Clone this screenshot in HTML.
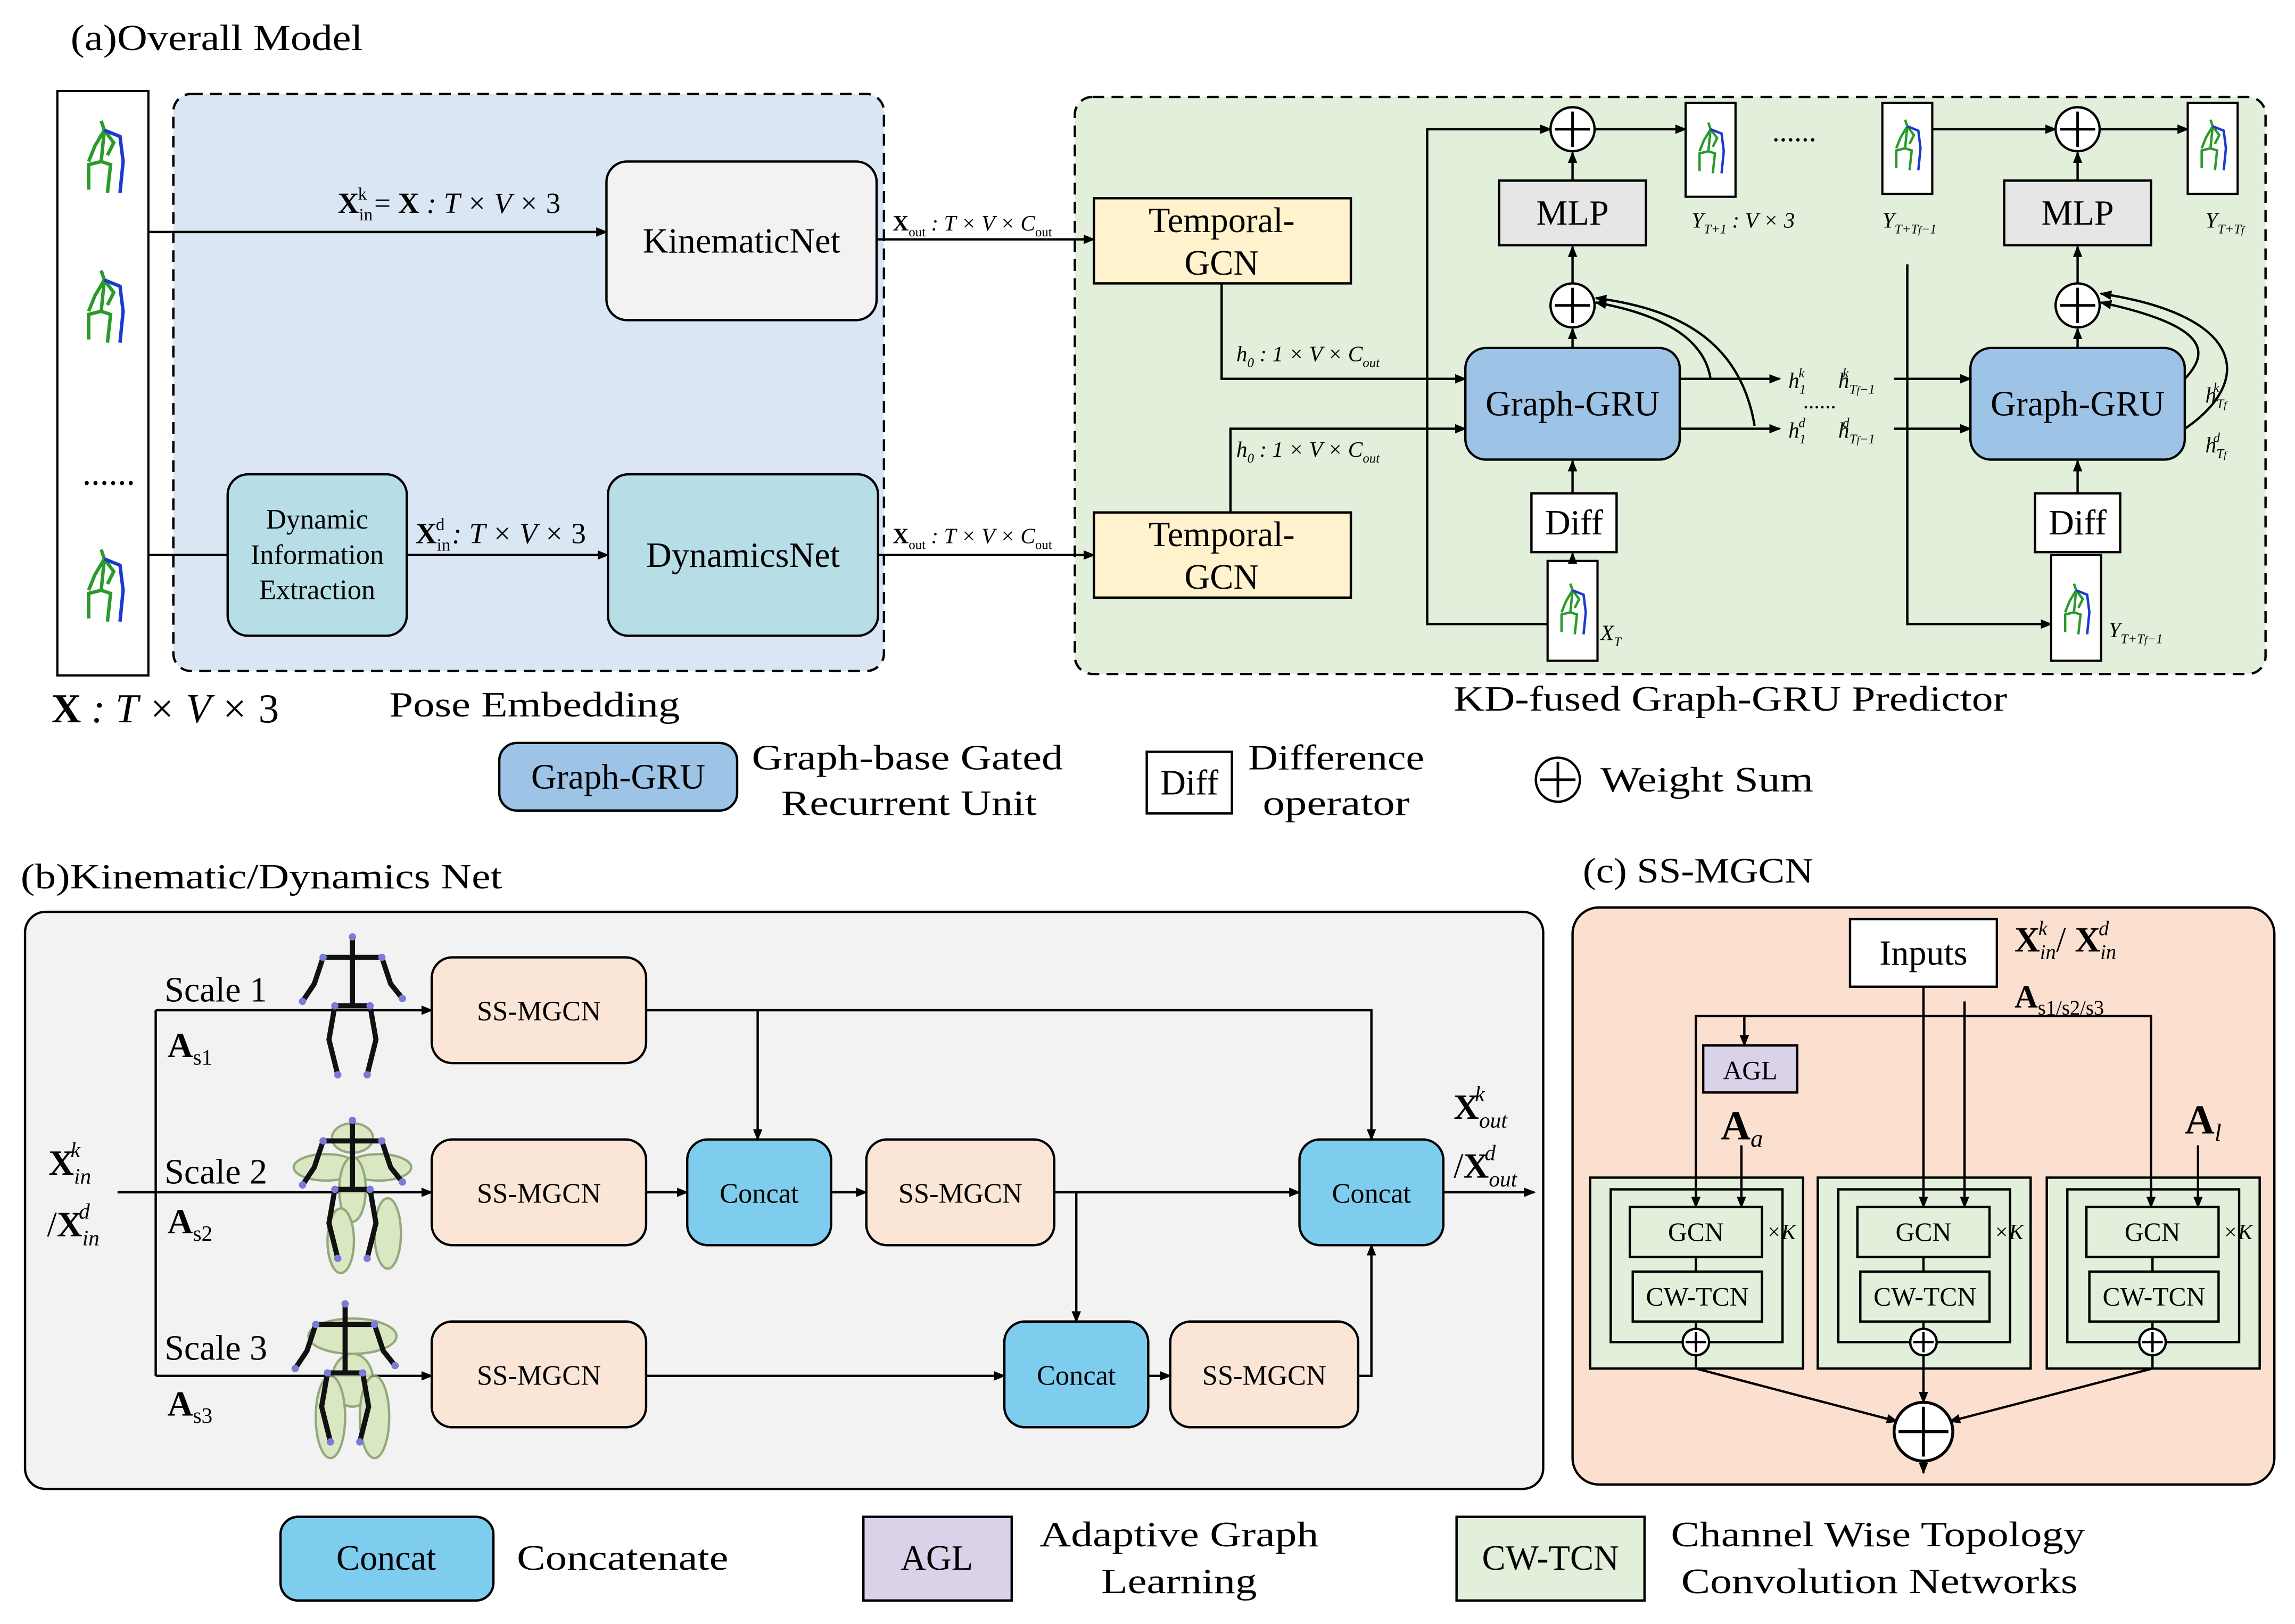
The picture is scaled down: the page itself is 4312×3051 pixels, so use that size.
<!DOCTYPE html>
<html><head><meta charset="utf-8"><style>
html,body{margin:0;padding:0;background:#fff}
svg{display:block}
text{font-family:"Liberation Serif",serif;fill:#000}
</style></head><body>
<svg width="4312" height="3051" viewBox="0 0 1563 1106" xmlns="http://www.w3.org/2000/svg">
<defs>
<marker id="a" markerWidth="8" markerHeight="8" refX="7" refY="4" orient="auto" markerUnits="userSpaceOnUse"><path d="M0,0.8 L8,4 L0,7.2z" fill="#000"/></marker>
<symbol id="sk" viewBox="0 0 40 60">
<path d="M18,4 L20,10 L14,20 L10,30 M20,10 L26,18 L22,26 M20,10 L18,30 L10,32 L10,48 M18,30 L24,32 L22,50" stroke="#2a9a2a" stroke-width="2.2" fill="none"/>
<path d="M20,10 L30,14 L32,30 L30,50" stroke="#1a3ad0" stroke-width="2.2" fill="none"/>
</symbol>
<symbol id="bk" viewBox="0 0 80 110">
<path d="M40,8 L40,20 M20,22 L60,22 M20,22 L14,40 L6,52 M60,22 L66,40 L74,50 M40,20 L40,55 M28,55 L52,55 M28,55 L24,78 L30,102 M52,55 L56,78 L50,102" stroke="#111" stroke-width="3.5" fill="none"/>
<g fill="#7a7ad8"><circle cx="40" cy="8" r="2.5"/><circle cx="20" cy="22" r="2.5"/><circle cx="60" cy="22" r="2.5"/><circle cx="6" cy="52" r="2.5"/><circle cx="74" cy="50" r="2.5"/><circle cx="28" cy="55" r="2.5"/><circle cx="52" cy="55" r="2.5"/><circle cx="30" cy="102" r="2.5"/><circle cx="50" cy="102" r="2.5"/></g>
</symbol>
</defs>
<g font-size="24" stroke-width="1.6">
<!-- (a) -->
<text x="48" y="34" font-size="25" textLength="199" lengthAdjust="spacingAndGlyphs">(a)Overall Model</text>
<rect x="39" y="62" width="62" height="398" fill="#fff" stroke="#000" stroke-width="1.5"/>
<use href="#sk" x="48" y="78" width="46" height="64"/><use href="#sk" x="48" y="180" width="46" height="64"/><use href="#sk" x="48" y="370" width="46" height="64"/>
<text x="56" y="330">......</text>
<rect x="118" y="64" width="484" height="393" rx="12" fill="#dae6f3" stroke="#000" stroke-dasharray="8,5"/>
<rect x="413" y="110" width="184" height="108" rx="14" fill="#f2f2f2" stroke="#000"/>
<text x="505" y="172" text-anchor="middle">KinematicNet</text>
<rect x="414" y="323" width="184" height="110" rx="14" fill="#b7dde6" stroke="#000"/>
<text x="506" y="386" text-anchor="middle">DynamicsNet</text>
<rect x="155" y="323" width="122" height="110" rx="14" fill="#b7dde6" stroke="#000"/>
<text x="216" y="360" text-anchor="middle" font-size="19">Dynamic</text><text x="216" y="384" text-anchor="middle" font-size="19">Information</text><text x="216" y="408" text-anchor="middle" font-size="19">Extraction</text>
<line x1="101" y1="158" x2="413" y2="158" stroke="#000" marker-end="url(#a)"/>
<text x="230" y="145" font-size="20"><tspan font-weight="bold">X</tspan><tspan font-size="12" dy="5">in</tspan><tspan font-size="12" dy="-14" dx="-10">k</tspan><tspan dy="9"> = </tspan><tspan font-weight="bold">X</tspan><tspan font-style="italic"> : T × V × </tspan>3</text>
<line x1="101" y1="378" x2="155" y2="378" stroke="#000"/>
<line x1="277" y1="378" x2="414" y2="378" stroke="#000" marker-end="url(#a)"/>
<text x="283" y="370" font-size="20"><tspan font-weight="bold">X</tspan><tspan font-size="12" dy="5">in</tspan><tspan font-size="12" dy="-14" dx="-10">d</tspan><tspan dy="9" font-style="italic"> : T × V × </tspan>3</text>
<text x="265" y="488" textLength="198" lengthAdjust="spacingAndGlyphs">Pose Embedding</text>
<text x="35" y="492" font-size="28"><tspan font-weight="bold">X</tspan><tspan font-style="italic"> : T × V × </tspan>3</text>

<rect x="732" y="66" width="811" height="393" rx="12" fill="#e2efda" stroke="#000" stroke-dasharray="8,5"/>
<line x1="597" y1="163" x2="745" y2="163" stroke="#000" marker-end="url(#a)"/>
<text x="608" y="157" font-size="15"><tspan font-weight="bold">X</tspan><tspan font-size="9" dy="4">out</tspan><tspan dy="-4" font-style="italic"> : T × V × C</tspan><tspan font-size="9" dy="4">out</tspan></text>
<line x1="598" y1="378" x2="745" y2="378" stroke="#000" marker-end="url(#a)"/>
<text x="608" y="370" font-size="15"><tspan font-weight="bold">X</tspan><tspan font-size="9" dy="4">out</tspan><tspan dy="-4" font-style="italic"> : T × V × C</tspan><tspan font-size="9" dy="4">out</tspan></text>
<rect x="745" y="135" width="175" height="58" fill="#fff2cc" stroke="#000"/>
<text x="832" y="158" text-anchor="middle">Temporal-</text><text x="832" y="187" text-anchor="middle">GCN</text>
<rect x="745" y="349" width="175" height="58" fill="#fff2cc" stroke="#000"/>
<text x="832" y="372" text-anchor="middle">Temporal-</text><text x="832" y="401" text-anchor="middle">GCN</text>
<polyline points="832,193 832,258 998,258" fill="none" stroke="#000" marker-end="url(#a)"/>
<polyline points="838,349 838,292 998,292" fill="none" stroke="#000" marker-end="url(#a)"/>
<text x="842" y="246" font-size="15" font-style="italic">h<tspan font-size="9" dy="4">0</tspan><tspan dy="-4"> : 1 × V × C</tspan><tspan font-size="9" dy="4">out</tspan></text>
<text x="842" y="311" font-size="15" font-style="italic">h<tspan font-size="9" dy="4">0</tspan><tspan dy="-4"> : 1 × V × C</tspan><tspan font-size="9" dy="4">out</tspan></text>
<rect x="998" y="237" width="146" height="76" rx="14" fill="#9dc3e6" stroke="#000"/>
<text x="1071" y="283" text-anchor="middle">Graph-GRU</text>
<rect x="1342" y="237" width="146" height="76" rx="14" fill="#9dc3e6" stroke="#000"/>
<text x="1415" y="283" text-anchor="middle">Graph-GRU</text>
<rect x="1021" y="123" width="100" height="44" fill="#e7e6e6" stroke="#000"/><text x="1071" y="153" text-anchor="middle">MLP</text>
<rect x="1365" y="123" width="100" height="44" fill="#e7e6e6" stroke="#000"/><text x="1415" y="153" text-anchor="middle">MLP</text>
<rect x="1043" y="336" width="58" height="40" fill="#fff" stroke="#000"/><text x="1072" y="364" text-anchor="middle">Diff</text>
<rect x="1386" y="336" width="58" height="40" fill="#fff" stroke="#000"/><text x="1415" y="364" text-anchor="middle">Diff</text>
<g fill="#fff" stroke="#000" stroke-width="1.5">
<rect x="1148" y="70" width="34" height="64"/><rect x="1282" y="70" width="34" height="62"/><rect x="1490" y="70" width="34" height="62"/><rect x="1054" y="382" width="34" height="68"/><rect x="1397" y="378" width="34" height="72"/></g>
<use href="#sk" x="1150" y="80" width="30" height="46"/><use href="#sk" x="1284" y="78" width="30" height="46"/><use href="#sk" x="1492" y="78" width="30" height="46"/><use href="#sk" x="1056" y="392" width="30" height="50"/><use href="#sk" x="1399" y="392" width="30" height="50"/>
<g fill="#fff" stroke="#000" stroke-width="1.6">
<circle cx="1071" cy="88" r="15"/><circle cx="1071" cy="208" r="15"/><circle cx="1415" cy="88" r="15"/><circle cx="1415" cy="208" r="15"/></g>
<g stroke="#000" stroke-width="1.8"><path d="M1071,76v24M1059,88h24M1071,196v24M1059,208h24M1415,76v24M1403,88h24M1415,196v24M1403,208h24"/></g>
<g stroke="#000" fill="none">
<polyline points="1054,425 972,425 972,88 1056,88" marker-end="url(#a)"/>
<line x1="1086" y1="88" x2="1148" y2="88" marker-end="url(#a)"/>
<line x1="1071" y1="123" x2="1071" y2="104" marker-end="url(#a)"/>
<line x1="1071" y1="193" x2="1071" y2="168" marker-end="url(#a)"/>
<line x1="1071" y1="237" x2="1071" y2="224" marker-end="url(#a)"/>
<line x1="1071" y1="336" x2="1071" y2="314" marker-end="url(#a)"/>
<line x1="1071" y1="382" x2="1071" y2="377" marker-end="url(#a)"/>
<line x1="1144" y1="258" x2="1212" y2="258" marker-end="url(#a)"/>
<line x1="1144" y1="292" x2="1212" y2="292" marker-end="url(#a)"/>
<path d="M1165,258 C1160,225 1120,212 1087,206" marker-end="url(#a)"/>
<path d="M1195,290 C1185,230 1140,210 1087,203" marker-end="url(#a)"/>
<line x1="1290" y1="258" x2="1342" y2="258" marker-end="url(#a)"/>
<line x1="1290" y1="292" x2="1342" y2="292" marker-end="url(#a)"/>
<polyline points="1299,180 1299,425 1397,425" marker-end="url(#a)"/>
<line x1="1316" y1="88" x2="1400" y2="88" marker-end="url(#a)"/>
<line x1="1430" y1="88" x2="1490" y2="88" marker-end="url(#a)"/>
<line x1="1415" y1="123" x2="1415" y2="104" marker-end="url(#a)"/>
<line x1="1415" y1="193" x2="1415" y2="168" marker-end="url(#a)"/>
<line x1="1415" y1="237" x2="1415" y2="224" marker-end="url(#a)"/>
<line x1="1415" y1="336" x2="1415" y2="314" marker-end="url(#a)"/>
<path d="M1488,258 C1505,240 1505,222 1431,206" marker-end="url(#a)"/>
<path d="M1488,292 C1535,260 1530,215 1431,200" marker-end="url(#a)"/>
</g>
<g font-size="15" font-style="italic">
<text x="1218" y="264">h<tspan font-size="9" dy="4">1</tspan><tspan font-size="9" dy="-11" dx="-5">k</tspan></text>
<text x="1218" y="298">h<tspan font-size="9" dy="4">1</tspan><tspan font-size="9" dy="-11" dx="-5">d</tspan></text>
<text x="1228" y="278" font-style="normal">......</text>
<text x="1252" y="264">h<tspan font-size="9" dy="4">T<tspan font-size="7">f</tspan>−1</tspan><tspan font-size="9" dy="-11" dx="-22">k</tspan></text>
<text x="1252" y="298">h<tspan font-size="9" dy="4">T<tspan font-size="7">f</tspan>−1</tspan><tspan font-size="9" dy="-11" dx="-22">d</tspan></text>
<text x="1502" y="274">h<tspan font-size="9" dy="4">T<tspan font-size="7">f</tspan></tspan><tspan font-size="9" dy="-11" dx="-9">k</tspan></text>
<text x="1502" y="308">h<tspan font-size="9" dy="4">T<tspan font-size="7">f</tspan></tspan><tspan font-size="9" dy="-11" dx="-9">d</tspan></text>
<text x="1152" y="155">Y<tspan font-size="9" dy="4">T+1</tspan><tspan dy="-4"> : V × 3</tspan></text>
<text x="1282" y="155">Y<tspan font-size="9" dy="4">T+T<tspan font-size="7">f</tspan>−1</tspan></text>
<text x="1502" y="155">Y<tspan font-size="9" dy="4">T+T<tspan font-size="7">f</tspan></tspan></text>
<text x="1090" y="436">X<tspan font-size="9" dy="4">T</tspan></text>
<text x="1436" y="434">Y<tspan font-size="9" dy="4">T+T<tspan font-size="7">f</tspan>−1</tspan></text>
</g>
<text x="990" y="484" textLength="377" lengthAdjust="spacingAndGlyphs">KD-fused Graph-GRU Predictor</text>
<text x="1207" y="96" font-size="20">......</text>

<!-- legend a -->
<rect x="340" y="506" width="162" height="46" rx="12" fill="#9dc3e6" stroke="#000"/><text x="421" y="537" text-anchor="middle">Graph-GRU</text>
<text x="512" y="524" textLength="212" lengthAdjust="spacingAndGlyphs">Graph-base Gated</text><text x="532" y="555" textLength="174" lengthAdjust="spacingAndGlyphs">Recurrent Unit</text>
<rect x="781" y="512" width="58" height="42" fill="#fff" stroke="#000"/><text x="810" y="541" text-anchor="middle">Diff</text>
<text x="850" y="524" textLength="120" lengthAdjust="spacingAndGlyphs">Difference</text><text x="860" y="555" textLength="100" lengthAdjust="spacingAndGlyphs">operator</text>
<circle cx="1061" cy="531" r="15" fill="#fff" stroke="#000"/><path d="M1061,519v24M1049,531h24" stroke="#000" stroke-width="1.8"/>
<text x="1090" y="539" textLength="145" lengthAdjust="spacingAndGlyphs">Weight Sum</text>

<!-- (b) -->
<text x="14" y="605" textLength="328" lengthAdjust="spacingAndGlyphs">(b)Kinematic/Dynamics Net</text>
<rect x="17" y="621" width="1034" height="393" rx="14" fill="#f2f2f2" stroke="#000"/>
<g fill="#fbe5d6" stroke="#000"><rect x="294" y="652" width="146" height="72" rx="14"/><rect x="294" y="776" width="146" height="72" rx="14"/><rect x="294" y="900" width="146" height="72" rx="14"/><rect x="590" y="776" width="128" height="72" rx="14"/><rect x="797" y="900" width="128" height="72" rx="14"/></g>
<g fill="#7fcdee" stroke="#000"><rect x="468" y="776" width="98" height="72" rx="14"/><rect x="885" y="776" width="98" height="72" rx="14"/><rect x="684" y="900" width="98" height="72" rx="14"/></g>
<g font-size="19" text-anchor="middle">
<text x="367" y="695">SS-MGCN</text><text x="367" y="819">SS-MGCN</text><text x="367" y="943">SS-MGCN</text><text x="654" y="819">SS-MGCN</text><text x="861" y="943">SS-MGCN</text>
<text x="517" y="819">Concat</text><text x="934" y="819">Concat</text><text x="733" y="943">Concat</text></g>
<g stroke="#000" fill="none">
<line x1="80" y1="812" x2="106" y2="812"/>
<polyline points="106,937 106,688"/>
<line x1="106" y1="688" x2="294" y2="688" marker-end="url(#a)"/>
<line x1="106" y1="812" x2="294" y2="812" marker-end="url(#a)"/>
<line x1="106" y1="937" x2="294" y2="937" marker-end="url(#a)"/>
<polyline points="440,688 934,688 934,776" marker-end="url(#a)"/>
<line x1="516" y1="688" x2="516" y2="776" marker-end="url(#a)"/>
<line x1="440" y1="812" x2="468" y2="812" marker-end="url(#a)"/>
<line x1="566" y1="812" x2="590" y2="812" marker-end="url(#a)"/>
<line x1="718" y1="812" x2="885" y2="812" marker-end="url(#a)"/>
<line x1="733" y1="812" x2="733" y2="900" marker-end="url(#a)"/>
<line x1="440" y1="937" x2="684" y2="937" marker-end="url(#a)"/>
<line x1="782" y1="937" x2="797" y2="937" marker-end="url(#a)"/>
<polyline points="925,937 934,937 934,848" marker-end="url(#a)"/>
<line x1="983" y1="812" x2="1045" y2="812" marker-end="url(#a)"/>
</g>
<use href="#bk" x="200" y="630" width="80" height="110"/>
<g fill="#d8e6bf" stroke="#8aa070" opacity="0.9"><ellipse cx="240" cy="775" rx="14" ry="10"/><ellipse cx="222" cy="795" rx="22" ry="9"/><ellipse cx="258" cy="795" rx="22" ry="9"/><ellipse cx="240" cy="810" rx="9" ry="22"/><ellipse cx="232" cy="845" rx="9" ry="22"/><ellipse cx="264" cy="840" rx="9" ry="24"/>
<ellipse cx="240" cy="910" rx="30" ry="12"/><ellipse cx="240" cy="940" rx="14" ry="18"/><ellipse cx="225" cy="965" rx="10" ry="28"/><ellipse cx="255" cy="965" rx="10" ry="28"/></g>
<use href="#bk" x="200" y="755" width="80" height="110"/>
<use href="#bk" x="195" y="880" width="80" height="110"/>
<text x="112" y="682">Scale 1</text><text x="112" y="806">Scale 2</text><text x="112" y="926">Scale 3</text>
<text x="114" y="720" font-weight="bold">A<tspan font-size="15" font-weight="normal" dy="5">s1</tspan></text>
<text x="114" y="840" font-weight="bold">A<tspan font-size="15" font-weight="normal" dy="5">s2</tspan></text>
<text x="114" y="964" font-weight="bold">A<tspan font-size="15" font-weight="normal" dy="5">s3</tspan></text>
<text x="33" y="800" font-weight="bold">X<tspan font-size="15" font-weight="normal" font-style="italic" dy="6">in</tspan><tspan font-size="15" font-weight="normal" font-style="italic" dy="-18" dx="-14">k</tspan></text>
<text x="32" y="842"><tspan>/</tspan><tspan font-weight="bold">X</tspan><tspan font-size="15" font-style="italic" dy="6">in</tspan><tspan font-size="15" font-style="italic" dy="-18" dx="-14">d</tspan></text>
<text x="990" y="762" font-weight="bold">X<tspan font-size="15" font-weight="normal" font-style="italic" dy="6">out</tspan><tspan font-size="15" font-weight="normal" font-style="italic" dy="-18" dx="-22">k</tspan></text>
<text x="990" y="802"><tspan>/</tspan><tspan font-weight="bold">X</tspan><tspan font-size="15" font-style="italic" dy="6">out</tspan><tspan font-size="15" font-style="italic" dy="-18" dx="-22">d</tspan></text>

<!-- (c) -->
<text x="1078" y="601" textLength="157" lengthAdjust="spacingAndGlyphs">(c) SS-MGCN</text>
<rect x="1071" y="618" width="478" height="393" rx="18" fill="#fbe0d0" stroke="#000"/>
<rect x="1260" y="626" width="100" height="46" fill="#fff" stroke="#000"/><text x="1310" y="657" text-anchor="middle">Inputs</text>
<text x="1372" y="648" font-weight="bold">X<tspan font-size="14" font-weight="normal" font-style="italic" dy="5">in</tspan><tspan font-size="14" font-weight="normal" font-style="italic" dy="-16" dx="-12">k</tspan><tspan dy="11" font-weight="normal"> / </tspan>X<tspan font-size="14" font-weight="normal" font-style="italic" dy="5">in</tspan><tspan font-size="14" font-weight="normal" font-style="italic" dy="-16" dx="-12">d</tspan></text>
<text x="1372" y="686" font-weight="bold" font-size="22">A<tspan font-size="14" font-weight="normal" dy="5">s1/s2/s3</tspan></text>
<g fill="#e2efda" stroke="#000"><rect x="1083" y="802" width="145" height="130"/><rect x="1238" y="802" width="145" height="130"/><rect x="1394" y="802" width="145" height="130"/></g>
<rect x="1160" y="712" width="64" height="32" fill="#d9d2e9" stroke="#000"/><text x="1192" y="735" text-anchor="middle" font-size="18">AGL</text>
<text x="1172" y="776" font-weight="bold" font-size="28">A<tspan font-size="17" font-weight="normal" font-style="italic" dy="5">a</tspan></text>
<text x="1488" y="772" font-weight="bold" font-size="28">A<tspan font-size="17" font-weight="normal" font-style="italic" dy="5">l</tspan></text>
<g stroke="#000" fill="none">
<line x1="1310" y1="672" x2="1310" y2="822" marker-end="url(#a)"/>
<polyline points="1155,822 1155,692 1465,692 1465,822"/>
<line x1="1155" y1="810" x2="1155" y2="822" marker-end="url(#a)"/><line x1="1465" y1="810" x2="1465" y2="822" marker-end="url(#a)"/>
<line x1="1188" y1="692" x2="1188" y2="712" marker-end="url(#a)"/>
<line x1="1338" y1="682" x2="1338" y2="822" marker-end="url(#a)"/>
<line x1="1186" y1="780" x2="1186" y2="822" marker-end="url(#a)"/>
<line x1="1497" y1="780" x2="1497" y2="822" marker-end="url(#a)"/>
<line x1="1155" y1="932" x2="1292" y2="968" marker-end="url(#a)"/>
<line x1="1310" y1="932" x2="1310" y2="955" marker-end="url(#a)"/>
<line x1="1466" y1="932" x2="1328" y2="968" marker-end="url(#a)"/>
<line x1="1310" y1="995" x2="1310" y2="1003" marker-end="url(#a)"/>
</g>
<g id="mod">
<rect x="1097" y="810" width="117" height="104" fill="none" stroke="#000"/>
<rect x="1110" y="822" width="90" height="34" fill="#e2efda" stroke="#000"/><text x="1155" y="845" text-anchor="middle" font-size="18">GCN</text>
<rect x="1112" y="866" width="88" height="34" fill="#e2efda" stroke="#000"/><text x="1156" y="889" text-anchor="middle" font-size="18">CW-TCN</text>
<line x1="1155" y1="856" x2="1155" y2="866" stroke="#000"/><line x1="1155" y1="900" x2="1155" y2="905" stroke="#000"/>
<line x1="1097" y1="914" x2="1146" y2="914" stroke="#000"/><line x1="1164" y1="914" x2="1214" y2="914" stroke="#000"/>
<circle cx="1155" cy="914" r="9" fill="#fff" stroke="#000"/><path d="M1155,907v14M1148,914h14" stroke="#000"/>
<line x1="1155" y1="923" x2="1155" y2="932" stroke="#000"/>
<text x="1203" y="844" font-size="15" font-style="italic">×K</text>
</g>
<use href="#mod" x="155"/><use href="#mod" x="311"/>
<circle cx="1310" cy="975" r="20" fill="#fff" stroke="#000" stroke-width="2"/><path d="M1310,958v34M1293,975h34" stroke="#000" stroke-width="2"/>

<!-- legend b -->
<rect x="191" y="1033" width="145" height="57" rx="12" fill="#7fcdee" stroke="#000"/><text x="263" y="1069" text-anchor="middle">Concat</text>
<text x="352" y="1069" textLength="144" lengthAdjust="spacingAndGlyphs">Concatenate</text>
<rect x="588" y="1033" width="101" height="57" fill="#d9d2e9" stroke="#000"/><text x="638" y="1069" text-anchor="middle">AGL</text>
<text x="708" y="1053" textLength="190" lengthAdjust="spacingAndGlyphs">Adaptive Graph</text><text x="750" y="1085" textLength="106" lengthAdjust="spacingAndGlyphs">Learning</text>
<rect x="992" y="1033" width="128" height="57" fill="#e2efda" stroke="#000"/><text x="1056" y="1069" text-anchor="middle">CW-TCN</text>
<text x="1138" y="1053" textLength="282" lengthAdjust="spacingAndGlyphs">Channel Wise Topology</text><text x="1145" y="1085" textLength="270" lengthAdjust="spacingAndGlyphs">Convolution Networks</text>
</g>
</svg>
</body></html>
